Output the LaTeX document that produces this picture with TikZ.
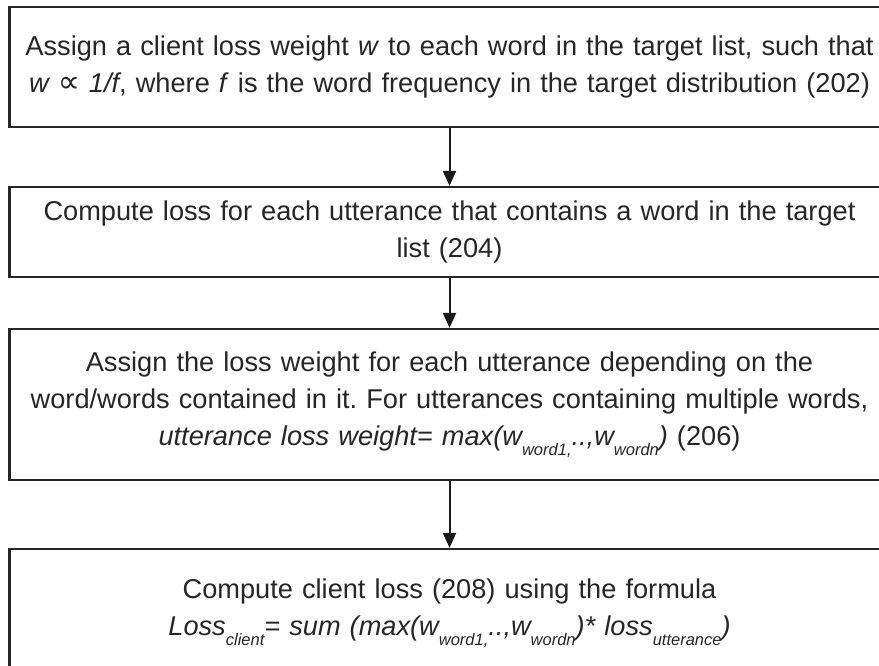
\documentclass[tikz,border=0pt]{standalone}
\usepackage{fontspec}
\setmainfont{Liberation Sans}
\newfontfamily\symfont{DejaVu Sans}
\usetikzlibrary{arrows.meta,positioning}
\newcommand{\wsub}[1]{\raisebox{-0.38em}{\fontsize{16.5}{16.5}\selectfont\itshape #1}}

\begin{document}
\begin{tikzpicture}[x=1pt,y=-1pt,
  stepbox/.style={draw=black!85, line width=2.2pt, minimum width=880pt,
    text width=875pt, align=center, inner sep=0pt,
    font=\fontsize{27.2}{37}\selectfont\frenchspacing, text=black!85},
  flow/.style={-{Triangle[length=15pt,width=13pt]}, line width=2pt, draw=black!90}]
\useasboundingbox (0,0) rectangle (879,666);
% the four steps, top to bottom
\node[stepbox, minimum height=120pt] (s202) at (449.5,67)
  {Assign a client loss weight \textit{w} to each word in the target list, such that\\
   \textit{w {\symfont\fontsize{31}{31}\selectfont ∝} 1/f}, where \textit{f} is the word frequency in the target distribution (202)};
\node[stepbox, minimum height=90pt] (s204) at (449.5,232)
  {Compute loss for each utterance that contains a word in the target\\ list (204)};
\node[stepbox, minimum height=151pt] (s206) at (449.5,404.5)
  {Assign the loss weight for each utterance depending on the\\
   word/words contained in it. For utterances containing multiple words,\\
   \textit{utterance loss weight= max(w\wsub{word1,}..,w\wsub{wordn})} (206)};
\node[stepbox, minimum height=128pt] (s208) at (449.5,613)
  {Compute client loss (208) using the formula\\
   \textit{Loss\wsub{client}= sum (max(w\wsub{word1,}..,w\wsub{wordn})* loss\wsub{utterance})}};
% arrows between steps
\foreach \a/\b in {s202/s204, s204/s206, s206/s208}
  \draw[flow] (\a) -- (\b);
\end{tikzpicture}
\end{document}
